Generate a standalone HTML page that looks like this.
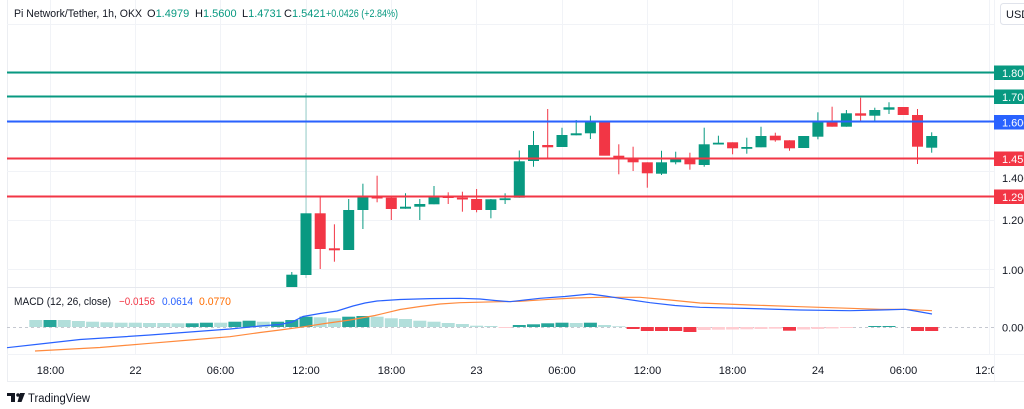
<!DOCTYPE html>
<html><head><meta charset="utf-8"><style>
html,body{margin:0;padding:0;background:#fff;width:1024px;height:409px;overflow:hidden}
svg{display:block}
text{font-family:"Liberation Sans",Arial,sans-serif;font-size:11px;fill:#131722}
</style></head><body>
<svg width="1024" height="409" viewBox="0 0 1024 409" xmlns="http://www.w3.org/2000/svg">
<rect x="0" y="0" width="1024" height="409" fill="#fff"/>
<line x1="7.5" y1="0" x2="7.5" y2="381" stroke="#eceef2" stroke-width="1"/>
<line x1="7" y1="381.5" x2="1024" y2="381.5" stroke="#eceef2" stroke-width="1"/>
<g stroke="#f1f3f7" stroke-width="1">
<line x1="7" y1="24.5" x2="994" y2="24.5"/>
<line x1="7" y1="73.5" x2="994" y2="73.5"/>
<line x1="7" y1="122.5" x2="994" y2="122.5"/>
<line x1="7" y1="171.5" x2="994" y2="171.5"/>
<line x1="7" y1="220.5" x2="994" y2="220.5"/>
<line x1="7" y1="269.5" x2="994" y2="269.5"/>
<line x1="50.5" y1="0" x2="50.5" y2="354"/>
<line x1="135.5" y1="0" x2="135.5" y2="354"/>
<line x1="220.5" y1="0" x2="220.5" y2="354"/>
<line x1="306.5" y1="0" x2="306.5" y2="354"/>
<line x1="391.5" y1="0" x2="391.5" y2="354"/>
<line x1="476.5" y1="0" x2="476.5" y2="354"/>
<line x1="562.5" y1="0" x2="562.5" y2="354"/>
<line x1="647.5" y1="0" x2="647.5" y2="354"/>
<line x1="732.5" y1="0" x2="732.5" y2="354"/>
<line x1="818.5" y1="0" x2="818.5" y2="354"/>
<line x1="903.5" y1="0" x2="903.5" y2="354"/>
<line x1="989.5" y1="0" x2="989.5" y2="354"/>
</g>
<line x1="7" y1="287.5" x2="994" y2="287.5" stroke="#e6e8ee" stroke-width="1"/>
<line x1="7" y1="354.5" x2="1024" y2="354.5" stroke="#f1f3f7" stroke-width="1"/>
<line x1="994.5" y1="0" x2="994.5" y2="381" stroke="#f1f3f7" stroke-width="1"/>

<g id="candles">
<g stroke-width="1">
<line x1="291.8" y1="272" x2="291.8" y2="287" stroke="#089981"/>
<line x1="306" y1="93" x2="306" y2="278" stroke="#97cfc9"/>
<line x1="320.2" y1="195.7" x2="320.2" y2="269" stroke="#f23645"/>
<line x1="334.4" y1="224.3" x2="334.4" y2="261.7" stroke="#f23645"/>
<line x1="348.7" y1="199" x2="348.7" y2="250" stroke="#089981"/>
<line x1="362.9" y1="183.7" x2="362.9" y2="229" stroke="#089981"/>
<line x1="377.1" y1="175.7" x2="377.1" y2="202.3" stroke="#f23645"/>
<line x1="391.3" y1="197" x2="391.3" y2="220" stroke="#f23645"/>
<line x1="405.5" y1="193.3" x2="405.5" y2="208.7" stroke="#089981"/>
<line x1="419.8" y1="199" x2="419.8" y2="220" stroke="#089981"/>
<line x1="434" y1="186" x2="434" y2="204.3" stroke="#089981"/>
<line x1="448.2" y1="192.3" x2="448.2" y2="204" stroke="#f23645"/>
<line x1="462.4" y1="191.7" x2="462.4" y2="211.7" stroke="#f23645"/>
<line x1="476.6" y1="189" x2="476.6" y2="212.3" stroke="#f23645"/>
<line x1="490.9" y1="199" x2="490.9" y2="218.3" stroke="#089981"/>
<line x1="505.1" y1="193.3" x2="505.1" y2="204" stroke="#089981"/>
<line x1="519.3" y1="150.5" x2="519.3" y2="197.7" stroke="#089981"/>
<line x1="533.5" y1="131" x2="533.5" y2="166.7" stroke="#089981"/>
<line x1="547.7" y1="109" x2="547.7" y2="157.7" stroke="#f23645"/>
<line x1="562" y1="127.7" x2="562" y2="147" stroke="#089981"/>
<line x1="576.2" y1="120" x2="576.2" y2="135.3" stroke="#089981"/>
<line x1="590.4" y1="115.7" x2="590.4" y2="139" stroke="#089981"/>
<line x1="618.8" y1="144.3" x2="618.8" y2="174.3" stroke="#f23645"/>
<line x1="633.1" y1="146.7" x2="633.1" y2="171" stroke="#f23645"/>
<line x1="647.3" y1="162.3" x2="647.3" y2="187.7" stroke="#f23645"/>
<line x1="661.5" y1="150.7" x2="661.5" y2="175" stroke="#089981"/>
<line x1="675.7" y1="151.7" x2="675.7" y2="164.3" stroke="#089981"/>
<line x1="689.9" y1="152.7" x2="689.9" y2="169.7" stroke="#f23645"/>
<line x1="704.2" y1="127.7" x2="704.2" y2="166.7" stroke="#089981"/>
<line x1="718.4" y1="135.7" x2="718.4" y2="144" stroke="#089981"/>
<line x1="732.6" y1="142.3" x2="732.6" y2="154.3" stroke="#f23645"/>
<line x1="746.8" y1="137.7" x2="746.8" y2="153.7" stroke="#089981"/>
<line x1="761" y1="126.7" x2="761" y2="147.3" stroke="#089981"/>
<line x1="775.3" y1="132.7" x2="775.3" y2="141.7" stroke="#f23645"/>
<line x1="789.5" y1="140.3" x2="789.5" y2="150.7" stroke="#f23645"/>
<line x1="817.9" y1="112.3" x2="817.9" y2="139.3" stroke="#089981"/>
<line x1="832.1" y1="106.7" x2="832.1" y2="126.7" stroke="#f23645"/>
<line x1="846.4" y1="110" x2="846.4" y2="126.7" stroke="#089981"/>
<line x1="860.6" y1="97.7" x2="860.6" y2="121" stroke="#f23645"/>
<line x1="874.8" y1="107.7" x2="874.8" y2="121.7" stroke="#089981"/>
<line x1="889" y1="102.3" x2="889" y2="114" stroke="#089981"/>
<line x1="917.5" y1="109" x2="917.5" y2="164" stroke="#f23645"/>
<line x1="931.7" y1="132.3" x2="931.7" y2="152.7" stroke="#089981"/>
</g>
<g>
<rect x="286.3" y="274.7" width="11" height="12.3" fill="#089981"/>
<rect x="300.5" y="213.3" width="11" height="61.7" fill="#089981"/>
<rect x="314.7" y="213.3" width="11" height="35.7" fill="#f23645"/>
<rect x="328.9" y="248.3" width="11" height="2" fill="#f23645"/>
<rect x="343.2" y="210" width="11" height="40" fill="#089981"/>
<rect x="357.4" y="197.3" width="11" height="12.7" fill="#089981"/>
<rect x="371.6" y="196.7" width="11" height="1.8" fill="#f23645"/>
<rect x="385.8" y="197.7" width="11" height="11.3" fill="#f23645"/>
<rect x="400" y="206.7" width="11" height="2" fill="#089981"/>
<rect x="414.3" y="204" width="11" height="2.7" fill="#089981"/>
<rect x="428.5" y="196" width="11" height="8.3" fill="#089981"/>
<rect x="442.7" y="196" width="11" height="2" fill="#f23645"/>
<rect x="456.9" y="197.7" width="11" height="1.8" fill="#f23645"/>
<rect x="471.1" y="199" width="11" height="11" fill="#f23645"/>
<rect x="485.4" y="199.3" width="11" height="10.7" fill="#089981"/>
<rect x="499.6" y="198.3" width="11" height="1.8" fill="#089981"/>
<rect x="513.8" y="161.3" width="11" height="36.4" fill="#089981"/>
<rect x="528" y="145" width="11" height="16" fill="#089981"/>
<rect x="542.2" y="145" width="11" height="2.3" fill="#f23645"/>
<rect x="556.5" y="135" width="11" height="12" fill="#089981"/>
<rect x="570.7" y="133.3" width="11" height="2" fill="#089981"/>
<rect x="584.9" y="122.3" width="11" height="11" fill="#089981"/>
<rect x="599.1" y="121.7" width="11" height="34" fill="#f23645"/>
<rect x="613.3" y="155.7" width="11" height="3.3" fill="#f23645"/>
<rect x="627.6" y="159.3" width="11" height="3" fill="#f23645"/>
<rect x="641.8" y="162.3" width="11" height="11" fill="#f23645"/>
<rect x="656" y="162.3" width="11" height="11.4" fill="#089981"/>
<rect x="670.2" y="159.3" width="11" height="3" fill="#089981"/>
<rect x="684.4" y="159.3" width="11" height="5" fill="#f23645"/>
<rect x="698.7" y="144.3" width="11" height="20.7" fill="#089981"/>
<rect x="712.9" y="142.7" width="11" height="1.8" fill="#089981"/>
<rect x="727.1" y="142.3" width="11" height="6" fill="#f23645"/>
<rect x="741.3" y="147" width="11" height="1.8" fill="#089981"/>
<rect x="755.5" y="136" width="11" height="11.3" fill="#089981"/>
<rect x="769.8" y="135.7" width="11" height="4.6" fill="#f23645"/>
<rect x="784" y="140.3" width="11" height="8" fill="#f23645"/>
<rect x="798.2" y="136" width="11" height="12" fill="#089981"/>
<rect x="812.4" y="122.3" width="11" height="14.4" fill="#089981"/>
<rect x="826.6" y="122.3" width="11" height="4.4" fill="#f23645"/>
<rect x="840.9" y="113.3" width="11" height="13.4" fill="#089981"/>
<rect x="855.1" y="113.3" width="11" height="2.4" fill="#f23645"/>
<rect x="869.3" y="110" width="11" height="5.7" fill="#089981"/>
<rect x="883.5" y="107.3" width="11" height="2.4" fill="#089981"/>
<rect x="897.7" y="107" width="11" height="8" fill="#f23645"/>
<rect x="912" y="115" width="11" height="31.7" fill="#f23645"/>
<rect x="926.2" y="136" width="11" height="11.7" fill="#089981"/>
</g>
</g>

<g stroke-width="2">
<line x1="7" y1="72.5" x2="994" y2="72.5" stroke="#089981"/>
<line x1="7" y1="96.5" x2="994" y2="96.5" stroke="#089981"/>
<line x1="7" y1="121.5" x2="994" y2="121.5" stroke="#2962ff"/>
<line x1="7" y1="158.5" x2="994" y2="158.5" stroke="#f23645"/>
<line x1="7" y1="196.5" x2="994" y2="196.5" stroke="#f23645"/>
</g>

<line x1="7" y1="327.5" x2="994" y2="327.5" stroke="#c5c8d0" stroke-width="1" stroke-dasharray="3,3"/>

<g>
<rect x="29.3" y="320" width="13" height="7" fill="#b2dfdb"/>
<rect x="43.5" y="320" width="13" height="7" fill="#26a69a"/>
<rect x="57.7" y="320" width="13" height="7" fill="#b2dfdb"/>
<rect x="71.9" y="321" width="13" height="6" fill="#b2dfdb"/>
<rect x="86.1" y="321.7" width="13" height="5.3" fill="#b2dfdb"/>
<rect x="100.4" y="322.3" width="13" height="4.7" fill="#b2dfdb"/>
<rect x="114.6" y="322.7" width="13" height="4.3" fill="#b2dfdb"/>
<rect x="128.8" y="322.7" width="13" height="4.3" fill="#b2dfdb"/>
<rect x="143" y="323" width="13" height="4" fill="#b2dfdb"/>
<rect x="157.3" y="323" width="13" height="4" fill="#b2dfdb"/>
<rect x="171.5" y="323.3" width="13" height="3.7" fill="#b2dfdb"/>
<rect x="185.7" y="323.3" width="13" height="3.7" fill="#26a69a"/>
<rect x="199.9" y="322.7" width="13" height="4.3" fill="#26a69a"/>
<rect x="214.2" y="322.7" width="13" height="4.3" fill="#b2dfdb"/>
<rect x="228.4" y="321.7" width="13" height="5.3" fill="#26a69a"/>
<rect x="242.6" y="320.7" width="13" height="6.3" fill="#26a69a"/>
<rect x="256.8" y="321.7" width="13" height="5.3" fill="#b2dfdb"/>
<rect x="271.1" y="321.7" width="13" height="5.3" fill="#26a69a"/>
<rect x="285.3" y="320" width="13" height="7" fill="#26a69a"/>
<rect x="299.5" y="316.7" width="13" height="10.3" fill="#26a69a"/>
<rect x="313.7" y="317.3" width="13" height="9.7" fill="#b2dfdb"/>
<rect x="327.9" y="318.3" width="13" height="8.7" fill="#b2dfdb"/>
<rect x="342.2" y="316.7" width="13" height="10.3" fill="#26a69a"/>
<rect x="356.4" y="316" width="13" height="11" fill="#26a69a"/>
<rect x="370.6" y="316.7" width="13" height="10.3" fill="#b2dfdb"/>
<rect x="384.8" y="318.3" width="13" height="8.7" fill="#b2dfdb"/>
<rect x="399" y="319" width="13" height="8" fill="#b2dfdb"/>
<rect x="413.3" y="320.7" width="13" height="6.3" fill="#b2dfdb"/>
<rect x="427.5" y="321.7" width="13" height="5.3" fill="#b2dfdb"/>
<rect x="441.7" y="323" width="13" height="4" fill="#b2dfdb"/>
<rect x="455.9" y="324" width="13" height="3" fill="#b2dfdb"/>
<rect x="470.1" y="325.7" width="13" height="1.3" fill="#b2dfdb"/>
<rect x="484.4" y="326" width="13" height="1" fill="#b2dfdb"/>
<rect x="498.6" y="327" width="13" height="1" fill="#ffcdd2"/>
<rect x="512.8" y="325" width="13" height="2" fill="#26a69a"/>
<rect x="527" y="324.3" width="13" height="2.7" fill="#26a69a"/>
<rect x="541.2" y="323.3" width="13" height="3.7" fill="#26a69a"/>
<rect x="555.5" y="322.7" width="13" height="4.3" fill="#26a69a"/>
<rect x="569.7" y="323" width="13" height="4" fill="#b2dfdb"/>
<rect x="583.9" y="322.7" width="13" height="4.3" fill="#26a69a"/>
<rect x="598.1" y="325" width="13" height="2" fill="#b2dfdb"/>
<rect x="612.3" y="326.3" width="13" height="0.7" fill="#b2dfdb"/>
<rect x="626.6" y="327" width="13" height="2" fill="#f23645"/>
<rect x="640.8" y="327" width="13" height="4" fill="#f23645"/>
<rect x="655" y="327" width="13" height="4" fill="#f23645"/>
<rect x="669.2" y="327" width="13" height="4" fill="#f23645"/>
<rect x="683.4" y="327" width="13" height="5" fill="#f23645"/>
<rect x="697.7" y="327" width="13" height="3" fill="#ffcdd2"/>
<rect x="711.9" y="327" width="13" height="2.7" fill="#ffcdd2"/>
<rect x="726.1" y="327" width="13" height="2.5" fill="#ffcdd2"/>
<rect x="740.3" y="327" width="13" height="2.3" fill="#ffcdd2"/>
<rect x="754.5" y="327" width="13" height="2" fill="#ffcdd2"/>
<rect x="768.8" y="327" width="13" height="1.7" fill="#ffcdd2"/>
<rect x="783" y="327" width="13" height="3.7" fill="#f23645"/>
<rect x="797.2" y="327" width="13" height="2.5" fill="#ffcdd2"/>
<rect x="811.4" y="327" width="13" height="2" fill="#ffcdd2"/>
<rect x="825.6" y="327" width="13" height="1.5" fill="#ffcdd2"/>
<rect x="839.9" y="327" width="13" height="1" fill="#ffcdd2"/>
<rect x="868.3" y="326" width="13" height="1" fill="#26a69a"/>
<rect x="882.5" y="326" width="13" height="1" fill="#26a69a"/>
<rect x="911" y="327" width="13" height="4" fill="#f23645"/>
<rect x="925.2" y="327" width="13" height="4" fill="#f23645"/>
</g>

<polyline fill="none" stroke="#ff8a3d" stroke-width="1.2" points="35,351 100,347.5 150,343.3 190,340 230,336.7 260,332.5 280,330 300,327.3 325,323.5 350,320 375,315.5 400,309.5 420,306.5 440,304 460,302.7 500,301.7 520,301.3 550,299.3 575,298 600,297.3 640,297.3 670,300 700,303 750,305 800,306.7 850,308.3 880,309.3 905,309.3 932,310.7"/>
<polyline fill="none" stroke="#2962ff" stroke-width="1.2" points="7,347.7 40,344 80,339.5 120,337 150,335 190,332 230,329 260,326 280,324.5 292,322 303,316.5 320,313.5 337,311 353,306 365,303 377,301 400,299.5 430,298.6 460,298.3 480,299 495,300.5 510,301.7 525,300 540,298.3 565,296.5 590,294 605,296 620,298.3 650,302.7 675,305.5 700,307.3 750,308.5 800,310 850,310.7 880,310 905,309.3 918,311.5 932,314"/>

<text x="14" y="17" textLength="128" lengthAdjust="spacingAndGlyphs">Pi Network/Tether, 1h, OKX</text>
<text x="147" y="17">O<tspan style="fill:#089981">1.4979</tspan></text>
<text x="195" y="17">H<tspan style="fill:#089981">1.5600</tspan></text>
<text x="242" y="17">L<tspan style="fill:#089981">1.4731</tspan></text>
<text x="284" y="17">C<tspan style="fill:#089981">1.5421</tspan></text>
<text x="326" y="17" style="fill:#089981" textLength="72" lengthAdjust="spacingAndGlyphs">+0.0426 (+2.84%)</text>

<text x="14" y="305" textLength="97" lengthAdjust="spacingAndGlyphs">MACD (12, 26, close)</text>
<text x="119" y="305" style="fill:#f23645" textLength="36" lengthAdjust="spacingAndGlyphs">−0.0156</text>
<text x="162" y="305" style="fill:#2962ff" textLength="31" lengthAdjust="spacingAndGlyphs">0.0614</text>
<text x="199" y="305" style="fill:#ff6d00" textLength="32" lengthAdjust="spacingAndGlyphs">0.0770</text>

<rect x="1000.5" y="3.5" width="30" height="21" rx="3" fill="#fff" stroke="#e0e3eb"/>
<text x="1006" y="18">USD</text>

<rect x="994" y="65.5" width="30" height="14.5" fill="#089981"/>
<text x="1002" y="76.8" style="fill:#fff">1.800</text>
<rect x="994" y="89.5" width="30" height="14.5" fill="#089981"/>
<text x="1002" y="100.8" style="fill:#fff">1.700</text>
<rect x="994" y="115" width="30" height="14.5" fill="#2962ff"/>
<text x="1002" y="126.3" style="fill:#fff">1.600</text>
<rect x="994" y="151.5" width="30" height="14.5" fill="#f23645"/>
<text x="1002" y="162.8" style="fill:#fff">1.451</text>
<text x="1002" y="182">1.400</text>
<rect x="994" y="189.5" width="30" height="14.5" fill="#f23645"/>
<text x="1002" y="200.8" style="fill:#fff">1.296</text>
<text x="1002" y="224">1.200</text>
<text x="1002" y="274">1.000</text>
<text x="1002" y="331.5">0.000</text>

<g text-anchor="middle">
<text x="50.5" y="374">18:00</text>
<text x="135.5" y="374">22</text>
<text x="220.5" y="374">06:00</text>
<text x="306" y="374">12:00</text>
<text x="391.5" y="374">18:00</text>
<text x="476.5" y="374">23</text>
<text x="562" y="374">06:00</text>
<text x="647.5" y="374">12:00</text>
<text x="732.5" y="374">18:00</text>
<text x="818" y="374">24</text>
<text x="903.5" y="374">06:00</text>
</g>
<svg x="0" y="355" width="994" height="26" overflow="hidden"><text x="989" y="19" text-anchor="middle">12:00</text></svg>

<g fill="#131722">
<rect x="7" y="393" width="8" height="3"/>
<rect x="11" y="393" width="4" height="9"/>
<circle cx="18" cy="395" r="1.8"/>
<polygon points="20,393 25,393 21.5,402 17.5,402"/>
</g>
<text x="28" y="402" style="font-size:11.5px" textLength="62" lengthAdjust="spacingAndGlyphs">TradingView</text>
</svg>
</body></html>
